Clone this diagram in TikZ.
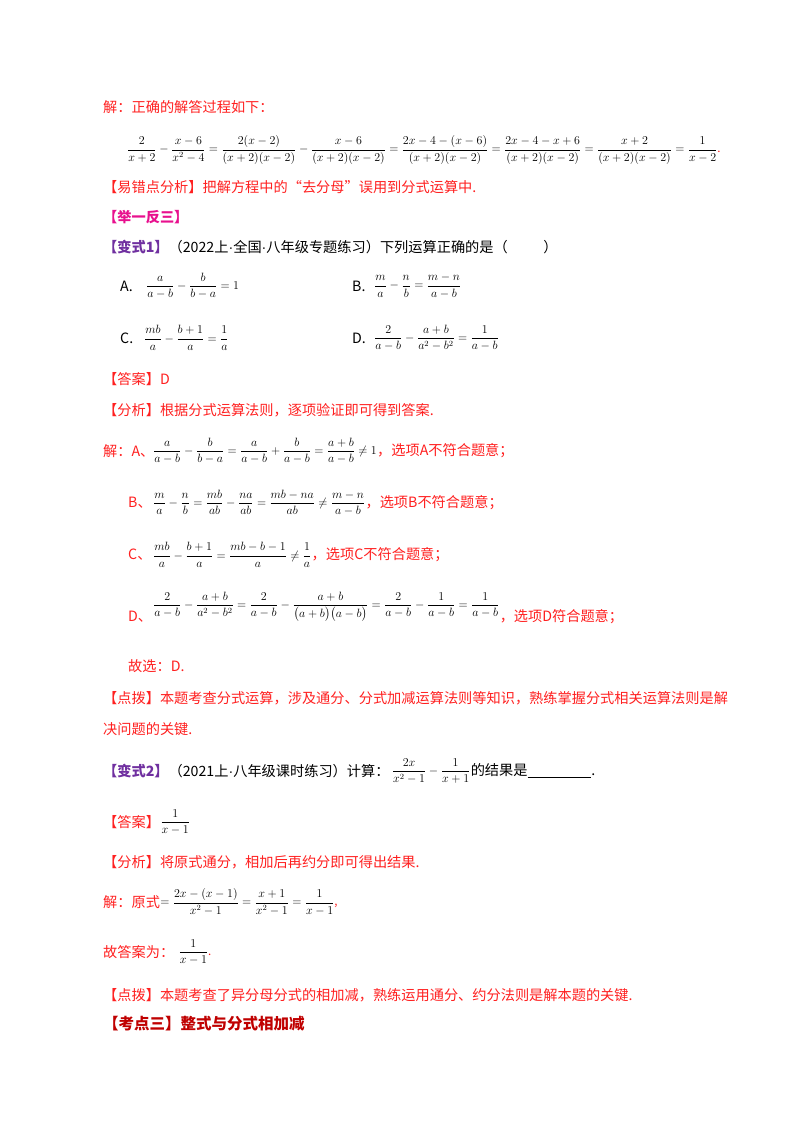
\documentclass[tikz,border=0pt]{standalone}
\usepackage{fontspec}
\usepackage{amsmath}
\setmainfont{Noto Sans CJK SC}
\newfontfamily\lat{Liberation Sans}
\newcommand{\md}{{\lat\textperiodcentered}}
\definecolor{rd}{HTML}{FF2020}
\definecolor{mg}{HTML}{E8108E}
\definecolor{pp}{HTML}{7030A0}
\definecolor{dr}{HTML}{C00000}
\begin{document}
\begin{tikzpicture}[x=1pt,y=-1pt,
  txt/.style={anchor=west,inner sep=0pt,font=\fontsize{14.2}{16}\selectfont},
  red/.style={txt,text=rd},
  mth/.style={anchor=west,inner sep=0pt,font=\fontsize{11.5}{14}\selectfont}]
\useasboundingbox[fill=white] (0,0) rectangle (800,1132);
\node[red] (l1) at (103,107) {解：正确的解答过程如下：};
\node[mth] (e1) at (127,150) {$\displaystyle\frac{2}{x+2}-\frac{x-6}{x^2-4}=\frac{2(x-2)}{(x+2)(x-2)}-\frac{x-6}{(x+2)(x-2)}=\frac{2x-4-(x-6)}{(x+2)(x-2)}=\frac{2x-4-x+6}{(x+2)(x-2)}=\frac{x+2}{(x+2)(x-2)}=\frac{1}{x-2}$\textcolor{rd}{.}};
\node[red] (l2) at (103,187) {【易错点分析】把解方程中的“去分母”误用到分式运算中.};
\node[txt,text=mg,font=\fontsize{14.2}{16}\selectfont\bfseries] (l3) at (103,217) {【举一反三】};
\node[txt] (l4) at (103,247) {\textcolor{pp}{\bfseries【变式1】}（2022上\md 全国\md 八年级专题练习）下列运算正确的是（\hspace{2.5em}）};
\node[txt] (a) at (120,286) {A.};
\node[mth] (am) at (146,286) {$\displaystyle\frac{a}{a-b}-\frac{b}{b-a}=1$};
\node[txt] (b) at (352,286) {B.};
\node[mth] (bm) at (374,286) {$\displaystyle\frac{m}{a}-\frac{n}{b}=\frac{m-n}{a-b}$};
\node[txt] (c) at (120,338) {C.};
\node[mth] (cm) at (144,338) {$\displaystyle\frac{mb}{a}-\frac{b+1}{a}=\frac{1}{a}$};
\node[txt] (d) at (352,338) {D.};
\node[mth] (dm) at (374,338) {$\displaystyle\frac{2}{a-b}-\frac{a+b}{a^2-b^2}=\frac{1}{a-b}$};
\node[red] (ans) at (103,379) {【答案】D};
\node[red] (fx) at (103,410) {【分析】根据分式运算法则，逐项验证即可得到答案.};
\node[red] (sa) at (103,451) {解：A、};
\node[mth] (sam) at (153,451) {$\displaystyle\frac{a}{a-b}-\frac{b}{b-a}=\frac{a}{a-b}+\frac{b}{a-b}=\frac{a+b}{a-b}\neq1$};
\node[red,anchor=west] (sat) at (sam.east) {，选项A不符合题意；};
\node[red] (sb) at (128,503) {B、};
\node[mth] (sbm) at (153,503) {$\displaystyle\frac{m}{a}-\frac{n}{b}=\frac{mb}{ab}-\frac{na}{ab}=\frac{mb-na}{ab}\neq\frac{m-n}{a-b}$};
\node[red,anchor=west] (sbt) at (sbm.east) {，选项B不符合题意；};
\node[red] (sc) at (128,555) {C、};
\node[mth] (scm) at (153,555) {$\displaystyle\frac{mb}{a}-\frac{b+1}{a}=\frac{mb-b-1}{a}\neq\frac{1}{a}$};
\node[red,anchor=west] (sct) at (scm.east) {，选项C不符合题意；};
\node[red] (sd) at (128,617) {D、};
\node[mth] (sdm) at (153,607) {$\displaystyle\frac{2}{a-b}-\frac{a+b}{a^2-b^2}=\frac{2}{a-b}-\frac{a+b}{\bigl(a+b\bigr)\bigl(a-b\bigr)}=\frac{2}{a-b}-\frac{1}{a-b}=\frac{1}{a-b}$};
\node[red,anchor=west] (sdt) at (sdm.east|-sd) {，选项D符合题意；};
\node[red] (gx) at (128,666) {故选：D.};
\node[red] (db1) at (103,698) {【点拨】本题考查分式运算，涉及通分、分式加减运算法则等知识，熟练掌握分式相关运算法则是解};
\node[red] (db2) at (103,729) {决问题的关键.};
\node[txt] (v2) at (103,771) {\textcolor{pp}{\bfseries【变式2】}（2021上\md 八年级课时练习）计算：};
\node[mth] (v2m) at (v2.east) [anchor=west,xshift=2pt] {$\displaystyle\frac{2x}{x^2-1}-\frac{1}{x+1}$};
\node[txt,anchor=west] (v2t) at (v2m.east) {的结果是\underline{\hspace{4.5em}}.};
\node[red] (ans2) at (103,822) {【答案】};
\node[mth,anchor=west] (ans2m) at (ans2.east) {$\displaystyle\frac{1}{x-1}$};
\node[red] (fx2) at (103,862) {【分析】将原式通分，相加后再约分即可得出结果.};
\node[red] (js) at (103,902) {解：原式};
\node[mth,anchor=west] (jsm) at (js.east) {$\displaystyle=\frac{2x-(x-1)}{x^2-1}=\frac{x+1}{x^2-1}=\frac{1}{x-1}$\textcolor{rd}{,}};
\node[red] (gd) at (103,952) {故答案为：};
\node[mth,anchor=west] (gdm) at ([xshift=4pt]gd.east) {$\displaystyle\frac{1}{x-1}$\textcolor{rd}{.}};
\node[red] (db3) at (103,995) {【点拨】本题考查了异分母分式的相加减，熟练运用通分、约分法则是解本题的关键.};
\node[txt,text=dr,font=\fontsize{15.5}{18}\selectfont\bfseries] (kd) at (103,1024) {【考点三】整式与分式相加减};
\end{tikzpicture}
\end{document}
